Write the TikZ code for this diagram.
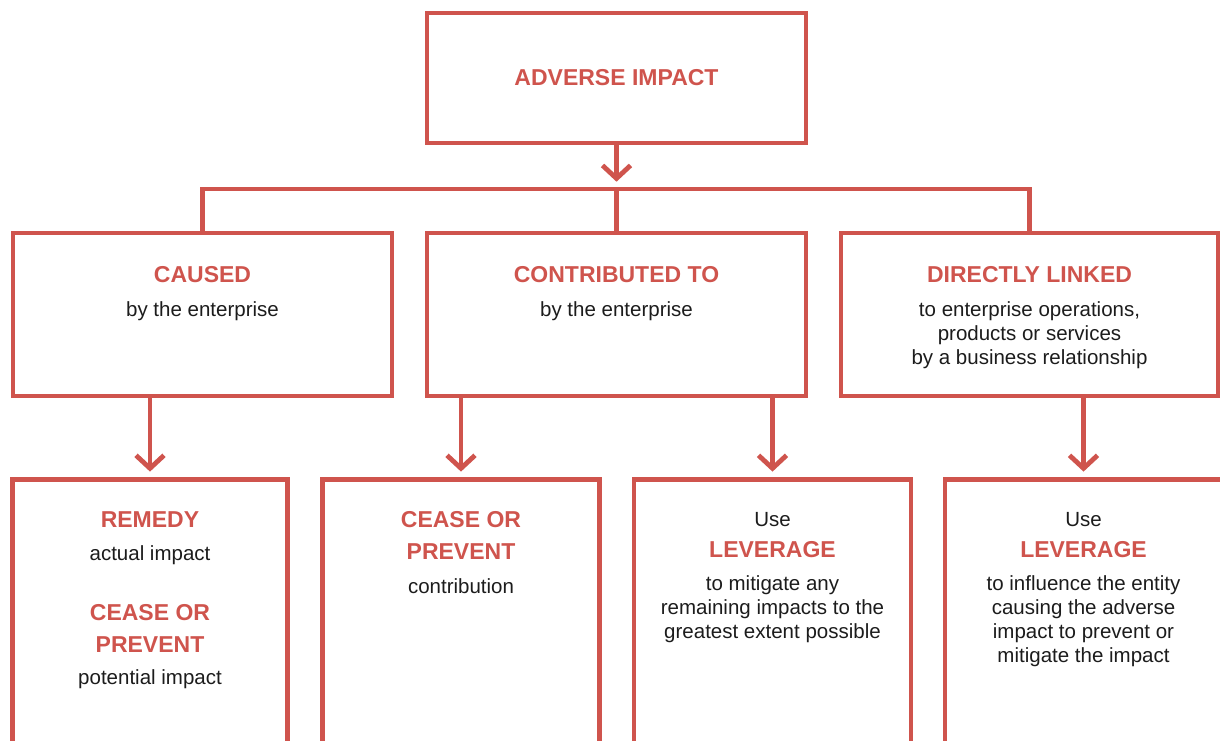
\documentclass[tikz,border=0pt]{standalone}
\usepackage{fontspec}
\setmainfont{Liberation Sans}
\usetikzlibrary{arrows.meta}
\definecolor{oecdred}{RGB}{207,84,77}
\definecolor{bodytext}{RGB}{28,28,28}
\newcommand{\headline}[1]{{\fontsize{23}{24}\selectfont\bfseries\color{oecdred}#1}}

\begin{document}
\begin{tikzpicture}[x=1pt, y=-1pt,
    box/.style={draw=oecdred, line width=4.8pt, rectangle, inner sep=0pt},
    link/.style={draw=oecdred, line width=4.8pt},
    arr/.style={link, -{Straight Barb[length=13pt, width=28pt]}},
    txt/.style={anchor=north, inner sep=0pt, align=center, text=bodytext,
      font=\fontsize{20.5}{24}\selectfont}]

    \useasboundingbox (0,0) rectangle (1220,740);
    \clip (0,0) rectangle (1220,740);

    % Draw boxes
    \node[box, minimum width=379pt, minimum height=130pt] (adverse) at (616.5,78) {\headline{ADVERSE IMPACT}};

    \node[box, minimum width=379pt, minimum height=163pt] (caused) at (202.5,314.5) {};
    \node[box, minimum width=379pt, minimum height=163pt] (contributed) at (616.5,314.5) {};
    \node[box, minimum width=377pt, minimum height=163pt] (linked) at (1029.5,314.5) {};

    \node[box, minimum width=275pt, minimum height=400pt] (remedy) at (150,679.5) {};
    \node[box, minimum width=277pt, minimum height=400pt] (cease) at (461,679.5) {};
    \node[box, minimum width=277pt, minimum height=400pt] (leverage) at (772.5,679.5) {};
    \node[box, minimum width=277pt, minimum height=400pt] (influence) at (1083.5,679.5) {};

    % Draw links
    \coordinate (bus) at (616.5,189);
    \draw[arr, shorten >=7.3pt] (adverse.south) -- (bus);
    \draw[link] (caused.north) |- (bus) -| (linked.north);
    \draw[link] (bus) -- (contributed.north);

    \draw[arr, shorten >=5.5pt] (caused.south -| remedy.north) -- (remedy.north);
    \draw[arr, shorten >=5.5pt] (contributed.south -| cease.north) -- (cease.north);
    \draw[arr, shorten >=5.5pt] (contributed.south -| leverage.north) -- (leverage.north);
    \draw[arr, shorten >=5.5pt] (linked.south -| influence.north) -- (influence.north);

    % Texts
    \node[txt] (causedtext) at ([yshift=-36pt]caused.north) {\headline{CAUSED}\\[10pt] by the enterprise};
    \node[txt] (contributedtext) at ([yshift=-36pt]contributed.north) {\headline{CONTRIBUTED TO}\\[10pt] by the enterprise};
    \node[txt] (linkedtext) at ([yshift=-36pt]linked.north) {\headline{DIRECTLY LINKED}\\[10pt]
      to enterprise operations,\\ products or services\\ by a business relationship};

    \node[txt] (remedytext) at ([yshift=-34.4pt]remedy.north) {\headline{REMEDY}\\[9pt] actual impact\\[36pt]
      \headline{CEASE OR}\\[8pt] \headline{PREVENT}\\[8pt] potential impact};
    \node[txt] (ceasetext) at ([yshift=-34.4pt]cease.north) {\headline{CEASE OR}\\[8pt] \headline{PREVENT}\\[10pt] contribution};
    \node[txt] (leveragetext) at ([yshift=-34.6pt]leverage.north) {Use\\[7.5pt] \headline{LEVERAGE}\\[9pt]
      to mitigate any\\ remaining impacts to the\\ greatest extent possible};
    \node[txt] (influencetext) at ([yshift=-34.6pt]influence.north) {Use\\[7.5pt] \headline{LEVERAGE}\\[9pt]
      to influence the entity\\ causing the adverse\\ impact to prevent or\\ mitigate the impact};
\end{tikzpicture}
\end{document}
